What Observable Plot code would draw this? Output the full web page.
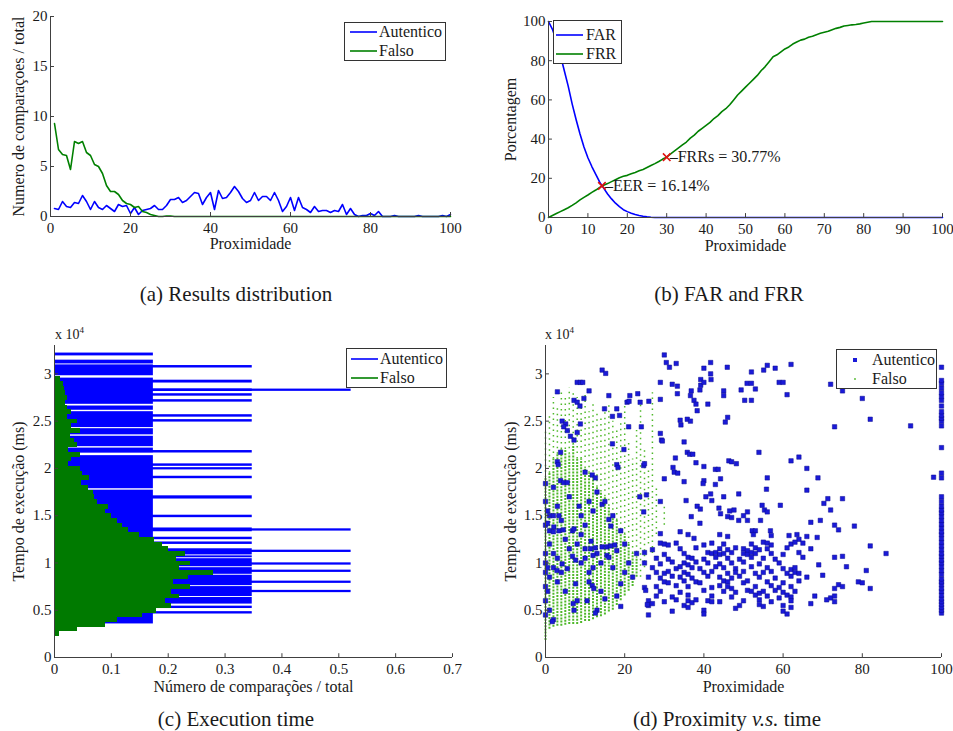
<!DOCTYPE html>
<html><head><meta charset="utf-8">
<script src="https://cdn.jsdelivr.net/npm/d3@7"></script>
<script src="https://cdn.jsdelivr.net/npm/@observablehq/plot@0.6"></script>
<style>
body{margin:0;background:#fff;}
#fig{position:relative;width:953px;height:731px;overflow:hidden;background:#fff;font-family:"Liberation Serif","DejaVu Serif",serif;color:#1a1a1a;}
#fig svg, #fig svg text{font-family:"Liberation Serif","DejaVu Serif",serif;}
.panel{position:absolute;}
.cap{position:absolute;font-size:21px;white-space:nowrap;transform:translate(-50%,-50%);line-height:1;}
.legend{position:absolute;box-sizing:border-box;border:1px solid #333;background:#fff;font-size:16px;}
.expo{position:absolute;font-size:14px;line-height:1;white-space:nowrap;}
</style>
</head><body><div id="fig"></div>
<script>
// ---------------- DATA ----------------
// (a) Results distribution
const aProx = d3.range(1, 101);
const aAutentico = [0.8,0.7,1.5,1.0,0.9,1.4,1.3,2.1,1.5,0.7,
  1.5,0.9,0.7,1.1,0.8,0.5,1.2,1.0,1.1,0.3,
  0.9,0.2,0.6,0.7,0.8,1.1,0.7,0.7,1.1,1.7,
  1.7,1.9,1.4,1.6,2.0,2.4,2.3,1.2,1.9,2.4,
  0.7,2.6,1.8,1.9,2.4,3.0,2.5,1.8,1.4,1.6,
  2.4,1.6,2.0,2.0,1.6,2.4,1.6,0.5,1.0,1.9,
  0.6,1.9,0.9,0.7,0.4,1.0,0.5,0.6,0.6,0.4,
  0.6,0.5,1.2,0.2,0.8,0.2,0,0.1,0.1,0.3,
  0.1,0.5,0,0,0,0.1,0,0,0,0,
  0,0.1,0,0,0,0,0,0.1,0,0.2];
const aFalso = [9.3,6.7,6.2,6.1,4.7,7.5,7.3,7.5,6.4,6.1,
  5.2,5.0,4.3,3.1,2.5,2.5,2.2,1.6,1.3,1.2,
  0.9,1.0,0.5,0.4,0.2,0.1,0,0,0.05,0.05,
  0,0,0,0,0,0,0,0,0,0, 0,0,0,0,0,0,0,0,0,0,
  0,0,0,0,0,0,0,0,0,0, 0,0,0,0,0,0,0,0,0,0,
  0,0,0,0,0,0,0,0,0,0, 0,0,0,0,0,0,0,0,0,0,
  0,0,0,0,0,0,0,0,0,0];
const aTicksX = [0,20,40,60,80,100];
const aTicksY = [0,5,10,15,20];

// (b) FAR and FRR
const bProx = d3.range(0, 101);
const bFAR = [100,96,90,83,75,67,58,50,42.6,36,
  30.5,26,22,18,15,12,9.5,7.3,5.5,4,
  3,2.2,1.5,1,0.6,0.3,0.1,0,0,0,
  0,0,0,0,0,0,0,0,0,0, 0,0,0,0,0,0,0,0,0,0,
  0,0,0,0,0,0,0,0,0,0, 0,0,0,0,0,0,0,0,0,0,
  0,0,0,0,0,0,0,0,0,0, 0,0,0,0,0,0,0,0,0,0,
  0,0,0,0,0,0,0,0,0,0, 0];
const bFRR = [0,1,2,3,4,5,6.2,7.5,9,10.3,
  11.5,12.8,14,15.3,16.5,17.3,18.3,19.3,20.3,21,
  21.5,22.3,23,23.8,24.5,25.5,26.5,27.5,28.6,29.8,
  30.77,32.5,34,35.5,37,38.5,40.5,42,44,45.5,
  47,48.5,50.5,52,54,55.5,57.5,60,62.5,64.5,
  66.5,68.5,70.5,72.5,75,77,79.5,82,83,84.5,
  86,87,88.5,89.5,90.5,91,92,92.5,93.3,94,
  94.5,95,95.8,96.5,97,97.7,98,98.3,98.5,98.8,
  99.2,99.6,100,100,100,100,100,100,100,100,
  100,100,100,100,100,100,100,100,100,100, 100];
const bMarkProx = [13.56, 30];
const bMarkVal = [16.14, 30.77];
const bMarkText = ["EER = 16.14%", "FRRs = 30.77%"];
const bTicksX = [0,10,20,30,40,50,60,70,80,90,100];
const bTicksY = [0,20,40,60,80,100];

// (c) Execution time (ms ranges of histogram bins, count level n -> n*0.1739)
const cStep = 0.1739;
const cAut1 = [[3550,17700],[17850,21350],[21650,22150],[22300,23400],[23550,24200],[24320,26000],[26150,26600],[26780,29550],[29800,30950],[31050,31450],[31900,32200]];
const cAut2 = [[4600,4850],[5180,5430],[5650,6350],[6450,7500],[7600,8700],[8800,9500],[9600,10450],[10550,10750],[10850,11500],[11960,12220],[12460,12720],[13300,13700],[14790,15050],[16760,17100],[18910,19170],[19840,20080],[20220,20480],[21630,21890],[24900,25160],[25420,25680],[27010,27270],[27640,27900],[28140,28400],[29030,29330],[30620,30880]];
const cAut3 = [[6860,7100],[7840,8080],[9000,9240],[9770,10010],[11110,11350],[13370,13610],[28150,28390]];
const cFalsoStart = [2200,2700,3200,3700,4200,4700,5200,5700,6200,6700,7200,7700,8200,8700,9200,9700,10200,10700,11200,11700,12200,12700,13200,13700,14200,14700,15200,15700,16200,16700,17200,17700,18200,18700,19200,19700,20200,20700,21200,21700,22200,22700,23200,23700,24200,24700,25200,25700,26200,26700,27200,27700,28200,28700,29200];
const cFalsoFrac = [0.008,0.04,0.09,0.11,0.155,0.18,0.205,0.195,0.22,0.205,0.24,0.21,0.235,0.28,0.22,0.24,0.215,0.23,0.2,0.19,0.175,0.15,0.13,0.12,0.11,0.1,0.09,0.095,0.075,0.07,0.068,0.06,0.048,0.062,0.05,0.045,0.025,0.03,0.045,0.025,0.04,0.035,0.028,0.045,0.03,0.04,0.022,0.03,0.022,0.02,0.022,0.02,0.018,0.015,0.01];
const cFalsoBin = 500;
const cTicksX = [0,0.1,0.2,0.3,0.4,0.5,0.6,0.7];
const cTicksY = [0,5000,10000,15000,20000,25000,30000];

// (d) Proximity vs time
const dAutentico = [
 [14.3,30400],[15.2,30050],[8,29100],[8.8,29100],[9.4,29100],[3,28100],[11,28200],[9.7,27400],[16,27700],[7.2,27200],[8,27000],[8.7,26600],[14.9,26300],[18,26300],[16.9,25500],[18.7,25600],[4.2,25000],[5.1,24700],[4.6,24400],[8.8,24700],[5.5,24000],[6.3,23400],[7.2,23000],[8,23800],[16.9,22600],[19.8,22000],[3.8,21700],[3,20700],[3.2,20400],[18,20400],[18.3,20100],[0,18400],[3.8,18700],[4.6,18500],[5.5,18500],[10,19600],[11.8,19300],[12.6,19000],[14.3,16200],[21,24400],[20.6,27000],[21.3,27700],[21.1,27100],[23.3,27900],[23.9,27000],[24.2,24400],[26.1,27100],[24.8,20300],[25,20500],[23.8,17000],[24.8,15400],[29,23700],[29.3,23000],[30,18900],[29,16500],[29,27300],[29.5,22900],
 [30,32000],[30.5,31200],[31.3,30700],[33,31100],[29,29100],[32,28900],[33.3,28700],[33.3,27900],
 [34,25100],[34.2,24600],[35.8,25200],[36.6,27700],[37.5,27200],[36.8,28200],[38,26800],[39,28300],[39.2,28800],[39.2,29400],[40,29100],[41.7,31200],[41.7,30000],[41.8,29400],[40,30600],[41,26800],[38.3,26100],[36.6,25000],[45.9,30700],[45,28200],[45,27700],[45.4,24900],[46,25400],[49.4,28300],[50.3,27200],[50.9,29000],[52,29000],[52,30200],[52,27200],[53,28400],[55.1,30400],[56,30900],[58,30600],[59,29100],[60,29100],[61,27800],[62,31000],[72,28900],[75,28200],[73,24400],[80,27400],[82,25200],[92.2,24500],
 [32.8,21100],[32.2,20100],[32.5,19600],[33.4,19500],[35,18600],[35,22800],[35.8,21700],[36.4,21500],[37.2,21500],[38,20600],[40,20200],[40,18700],[39.8,18400],[41.7,17300],[42.9,19900],[43.6,19900],[42.9,18300],[44.2,18900],[46.3,20800],[47,20700],[48.2,20500],[48.8,17300],[38.3,16000],[39.1,15700],[36.8,14900],[39,14200],[42,16600],[43.8,15800],[44.2,15200],[46,14900],[46.5,15500],[47.6,15600],[47,14800],[48.8,14500],[50,15000],[51,15400],[51,14500],[52.2,13400],[53,13400],[54.3,14500],[55.3,15600],[56,15400],[55.8,17800],[56,19000],[54.7,16100],[56.8,13400],[59.3,16100],[62,20800],[64,21200],[66,20000],[66,17700],[68.8,19000],[67,14300],[69.4,14500],[70.3,16300],[71.3,16800],[72,15600],[73,14000],[75,16800],[78,13900],[68.6,12700],[53.9,21700],[35.5,16600],[40.5,17000],[45,17000],[25.5,17200],
 [29,13100],[34,13300],[36,13000],[37.5,12600],[44,13000],[46,12800],[52.5,13000],[57,12900],[61.5,12900],[63.5,13000],[64,12500],[66,12800],[74,13500],
 [29,12100],[30,12000],[31,11900],[33,12100],[40,11900],[42,12100],[45,12000],[52,12000],[55,12200],[56,12100],[57,11900],[62,12000],[63,12200],[65,12100],
 [27,11400],[34,11500],[38,11600],[44,11500],[46,11400],[48,11600],[50,11500],[51,11300],[53,11600],[54,11400],[56,11500],[61,11600],[67,11500],
 [25,11100],[30,10900],[35,11000],[41,11100],[42,11000],[43,11100],[44,10900],[45,11000],[47,11100],[50,11000],[51,10900],[52,11100],[53,11000],[57,11000],[60,10900],[64,11100],[86,11000],[82,11800],
 [28,10500],[31,10400],[36,10600],[37,10500],[40,10400],[43,10600],[46,10500],[49,10400],[52,10600],[55,10500],[58,10400],[65,10600],[73,10600],[75,10700],
 [25,10000],[29,9900],[32,10100],[35,10000],[36,9800],[38,10100],[41,10000],[44,9900],[47,10000],[50,10100],[54,9900],[59,10000],[69,9800],
 [27,9500],[33,9400],[34,9600],[37,9500],[39,9400],[43,9600],[45,9500],[48,9400],[52,9600],[56,9500],[60,9400],[62,9300],[63,9500],[76,9600],
 [28,9000],[30,8900],[31,9100],[35,9000],[36,8800],[40,9000],[42,9100],[46,8900],[48,9000],[50,9100],[53,8900],[55,9000],[57,9100],[61,8900],[63,9000],[64,8900],[81,9200],
 [26,8500],[29,8400],[32,8600],[34,8500],[37,8400],[41,8600],[44,8500],[47,8400],[49,8600],[54,8500],[58,8400],[62,8600],[66,8500],[70,8700],
 [30,8000],[31,7900],[35,8100],[38,8000],[39,7900],[45,8100],[46,8000],[50,7900],[51,8100],[56,8000],[60,7900],[64,8100],[79,8000],[80,7900],
 [25,7400],[28,7500],[33,7600],[36,7500],[42,7400],[44,7600],[46,7500],[47,7300],[53,7500],[57,7600],[59,7400],[62,7500],[73,7300],[74,7700],[75,7500],[82,7300],
 [29,7000],[34,6900],[40,7100],[45,7000],[48,6900],[51,7100],[52,7000],[54,6800],[55,7000],[58,7100],[60,6900],[63,7000],
 [28,6500],[32,6400],[36,6600],[42,6500],[47,6400],[53,6600],[56,6500],[59,6300],[61,6600],[62,6400],[68,6500],[72,6300],[73,6500],
 [26,6000],[30,5900],[33,6100],[36,6000],[37,5800],[38,6100],[41,6000],[42,5900],[50,6000],[54,6100],[57,5900],[62,6000],[71,6100],[73,5900],
 [26,5500],[27,5700],[35,5500],[36,5300],[49,5500],[54,5600],[55,5400],[60,5500],[62,5300],
 [32,4900],[40,5000],[60,4900],[44,5900],[48,5200],[26,4500],[40,4600],[61,4600],[67,5700],
 [0,16500],[0.5,15500],[1,15000],[2,15000],[3.4,15000],[0,14000],[0.5,14200],[2.1,13800],[1,13400],[2,13300],[3.4,13400],[4.5,13500],[6.8,13400],[7.2,13600],[11.4,11500],[12.6,11600],[14.3,11700],[15.5,11700],[16.4,11800],[17.5,11900],[18,11300],[15.5,10800],[16,10600],[6.8,10700],[7.6,10300],[2,9500],[2.9,9200],[11,8000],[11.8,7600],[12.2,7300],[7,5700],[7.2,5000],[13,5000],[2,4000],[19,5400],[25.3,7100],[25.7,5600],[4.2,9900],[5.5,9400],[7.6,7800],[8,6000],[10.5,6000],[12.6,4700],[1.7,3800],[0,9000],[0,10000],[0,11000],[0.5,9500],[1,8500],[0,7500],[0.5,7000],[0,6000],[1,5000],[0,4500],[1,12000],[2,11000],[3,10500],[4,9000],[3,8000],[5,7000],[9,10000],[10,10500],[11,9000],[12,9500],[13,11000],[14,10000],[8,12000],[9,13000],[10,14000],[12,15500],[13,17500],[15,16500],[16,14600],[17,15000],[19,13400],[20,12000],[20,9000],[21,10000],[22,8500],[23,11000],[19,7800],[17,9500],[18,6500],[14,7000],[15,6200],[6,11500],[5,12500],[4,14500],[3,16000],[9,15000],[11,16500],[2,18000],[6,17000],[16.5,13900],[8.5,16000],[10,11500],[11.5,12300],[12,10800],
 [100,4700],[100,5000],[100,5300],[100,5600],[100,5900],[100,6200],[100,6600],[100,7000],[100,7300],[100,7700],[100,8000],[100,8300],[100,8800],[100,9200],[100,9600],[100,10000],[100,10300],[100,10700],[100,11000],[100,11400],[100,11800],[100,12200],[100,12600],[100,13000],[100,13300],[100,13700],[100,14100],[100,14500],[100,14900],[100,15300],[100,15600],[100,16000],[100,16500],[100,17000],[100,19000],[100,19500],[100,22200],[100,24500],[100,25000],[100,25300],[100,25600],[100,26000],[100,26600],[100,27200],[100,27600],[100,28000],[100,28500],[100,29000],[100,29300],[100,30700],[98,19070]
];
const dFalsoDenseX  = [0,1,2,3,4,5,6,7,8,9,10,11,12,13,14,15,16,17,18,19,20,21,22,23];
const dFalsoDenseLo = [1800,3000,3200,3300,3300,3400,3500,3500,3500,3600,3800,3800,4000,4200,4300,4500,4800,5000,5500,6000,6500,7000,7500,8500];
const dFalsoDenseHi = [19000,19500,21000,21500,22000,22000,21500,22500,21000,21000,20000,19500,19000,18000,17500,17000,16000,15000,14500,13500,13000,12000,11000,10500];
const dFalsoSparseX  = [0,1,2,3,4,5,6,7,8,9,10,11,12,13,14,15,16,17,18,19,20,21,22,23,24,25,26,27,28,30];
const dFalsoSparseLo = [19000,19500,21000,21500,22000,22000,21500,22500,21000,21000,20000,19500,19000,18000,17500,17000,16000,15000,14500,13500,13000,12000,11000,10500,8500,9500,12000,11000,13000,14000];
const dFalsoSparseHi = [24000,25500,27500,26500,28000,27500,28500,28000,27500,26500,28000,26000,27000,26000,25500,26500,27000,25000,24000,25000,27000,23000,21000,24000,27000,22000,20000,28000,18000,16000];
const dTicksX = [0,20,40,60,80,100];
const dTicksY = [0,5000,10000,15000,20000,25000,30000];

// ---------------- DRAWING ----------------
const BLUE = "#0000ff", GREEN = "#008000", AX = "#404040", LIME = "#4fb82a";
const fig = document.getElementById("fig");
const style = {fontFamily: "'Liberation Serif', 'DejaVu Serif', serif", fontSize: "15px", background: "transparent", color: "#1a1a1a", overflow: "visible"};

function axesMarks(xDom, yDom, xTicks, yTicks, tx, ty) {
  return [
    Plot.ruleX(xTicks, {x: d => d, y1: yDom[0], y2: yDom[0] + ty, stroke: AX}),
    Plot.ruleY(yTicks, {y: d => d, x1: xDom[0], x2: xDom[0] + tx, stroke: AX}),
    Plot.ruleY([yDom[0]], {stroke: AX}),
    Plot.ruleX([xDom[0]], {stroke: AX})
  ];
}
const xLabel = (t, dy) => Plot.text([t], {text: d => d, frameAnchor: "bottom", textAnchor: "middle", lineAnchor: "middle", dy, fontSize: 16});
const yLabel = (t, dx) => Plot.text([t], {text: d => d, frameAnchor: "left", textAnchor: "middle", lineAnchor: "middle", rotate: -90, dx, fontSize: 16});

function mount(svg, left, top, w, h) {
  const d = document.createElement("div");
  d.className = "panel";
  Object.assign(d.style, {left: left + "px", top: top + "px", width: w + "px", height: h + "px"});
  d.appendChild(svg);
  fig.appendChild(d);
}

// (a)
mount(Plot.plot({
  width: 470, height: 260, marginLeft: 50, marginRight: 20, marginTop: 16, marginBottom: 44, style,
  x: {domain: [0, 100], ticks: aTicksX, tickSize: 0, tickPadding: 6, label: null},
  y: {domain: [0, 20], ticks: aTicksY, tickSize: 0, tickPadding: 3, label: null},
  marks: [
    Plot.line(aAutentico, {x: aProx, y: d => d, stroke: BLUE, strokeWidth: 1.6}),
    Plot.line(aFalso, {x: aProx, y: d => d, stroke: GREEN, strokeWidth: 1.6}),
    ...axesMarks([0, 100], [0, 20], aTicksX, aTicksY, 1, 0.4),
    xLabel("Proximidade", 27),
    yLabel("Numero de comparaçoes / total", -32)
  ]
}), 0, 0, 470, 260);

// (b)
const bRows = bProx.map((p, i) => ({p, far: bFAR[i], frr: bFRR[i]}));
const bMarks = bMarkProx.map((p, i) => ({p, v: bMarkVal[i], t: bMarkText[i]}));
mount(Plot.plot({
  width: 473, height: 260, marginLeft: 68, marginRight: 11, marginTop: 21, marginBottom: 43, style,
  x: {domain: [0, 100], ticks: bTicksX, tickSize: 0, tickPadding: 6, label: null},
  y: {domain: [0, 100], ticks: bTicksY, tickSize: 0, tickPadding: 3, label: null},
  marks: [
    Plot.line(bRows, {x: "p", y: "far", stroke: BLUE, strokeWidth: 1.6}),
    Plot.line(bRows, {x: "p", y: "frr", stroke: GREEN, strokeWidth: 1.6}),
    Plot.dot(bMarks, {x: "p", y: "v", symbol: "times", r: 3.5, stroke: "#e01010", strokeWidth: 1.6}),
    Plot.text(bMarks, {x: "p", y: "v", text: d => "\u2013" + d.t, textAnchor: "start", dx: 3, fontSize: 16}),
    ...axesMarks([0, 100], [0, 100], bTicksX, bTicksY, 1, 2),
    xLabel("Proximidade", 28),
    yLabel("Porcentagem", -38)
  ]
}), 480, 0, 473, 260);

// (c)
const toRows = (arr, n) => arr.map(([a, b]) => ({y1: a, y2: b, x2: n * cStep}));
const cBlue = [...toRows(cAut3, 3), ...toRows(cAut2, 2), ...toRows(cAut1, 1)];
const cGreen = cFalsoStart.map((s, i) => ({y1: s, y2: s + cFalsoBin, x2: cFalsoFrac[i]}));
mount(Plot.plot({
  width: 470, height: 400, marginLeft: 54, marginRight: 18, marginTop: 25, marginBottom: 63, style,
  x: {domain: [0, 0.7], ticks: cTicksX, tickFormat: d => String(d), tickSize: 0, tickPadding: 6, label: null},
  y: {domain: [0, 33000], ticks: cTicksY, tickFormat: d => String(d / 10000), tickSize: 0, tickPadding: 3, label: null},
  marks: [
    Plot.rectX(cBlue, {x1: 0, x2: "x2", y1: "y1", y2: "y2", fill: BLUE}),
    Plot.rectX(cGreen, {x1: 0, x2: "x2", y1: "y1", y2: "y2", fill: "#007a00", shapeRendering: "crispEdges"}),
    ...axesMarks([0, 0.7], [0, 33000], cTicksX, cTicksY, 0.007, 400),
    xLabel("Número de comparações / total", 29),
    yLabel("Tempo de execução (ms)", -36)
  ]
}), 0, 320, 470, 400);

// (d)
const dDense = dFalsoDenseX.map((x, i) => ({x, y1: dFalsoDenseLo[i], y2: dFalsoDenseHi[i]}));
const dSparse = dFalsoSparseX.map((x, i) => ({x, y1: dFalsoSparseLo[i], y2: dFalsoSparseHi[i]}));
mount(Plot.plot({
  width: 473, height: 400, marginLeft: 65, marginRight: 12, marginTop: 25, marginBottom: 63, style,
  x: {domain: [0, 100], ticks: dTicksX, tickSize: 0, tickPadding: 6, label: null},
  y: {domain: [0, 33000], ticks: dTicksY, tickFormat: d => String(d / 10000), tickSize: 0, tickPadding: 3, label: null},
  marks: [
    Plot.ruleX(dSparse, {x: "x", y1: "y1", y2: "y2", stroke: LIME, strokeWidth: 1.5, strokeDasharray: "1.5,4"}),
    Plot.ruleX(dDense, {x: "x", y1: "y1", y2: "y2", stroke: LIME, strokeWidth: 2, strokeDasharray: "2,1.2"}),
    Plot.dot(dAutentico, {x: d => d[0], y: d => d[1], symbol: "square", r: 2.5, fill: "#1a1ad8", stroke: "#0a0a90", strokeWidth: 0.5}),
    ...axesMarks([0, 100], [0, 33000], dTicksX, dTicksY, 1, 400),
    xLabel("Proximidade", 29),
    yLabel("Tempo de execução (ms)", -35)
  ]
}), 480, 320, 473, 400);

// legends
function legend(left, top, w, h, rows) {
  const box = document.createElement("div");
  box.className = "legend";
  Object.assign(box.style, {left: left + "px", top: top + "px", width: w + "px", height: h + "px"});
  let html = "";
  for (const r of rows) {
    let sw = "";
    if (r.kind === "line") sw = `<line x1="${r.x1}" x2="${r.x2}" y1="5" y2="5" stroke="${r.color}" stroke-width="1.6"/>`;
    else if (r.kind === "square") sw = `<rect x="${r.x1 - 2}" y="3" width="4" height="4" fill="${r.color}"/>`;
    else sw = `<circle cx="${r.x1}" cy="5" r="0.9" fill="${r.color}"/>`;
    html += `<svg style="position:absolute;left:0;top:${r.cy - 5}px" width="${w - 2}" height="10">${sw}</svg>`;
    html += `<span style="position:absolute;left:${r.tx}px;top:${r.cy}px;transform:translateY(-52%);line-height:1;white-space:nowrap">${r.label}</span>`;
  }
  box.innerHTML = html;
  fig.appendChild(box);
}
legend(344, 22, 102, 39, [
  {kind: "line", x1: 5, x2: 32, cy: 9, tx: 34, color: BLUE, label: "Autentico"},
  {kind: "line", x1: 5, x2: 32, cy: 28, tx: 34, color: GREEN, label: "Falso"}
]);
legend(553, 20, 69, 44, [
  {kind: "line", x1: 2, x2: 29, cy: 14, tx: 32, color: BLUE, label: "FAR"},
  {kind: "line", x1: 2, x2: 29, cy: 33, tx: 32, color: GREEN, label: "FRR"}
]);
legend(346, 348, 101, 40, [
  {kind: "line", x1: 4, x2: 31, cy: 10, tx: 33, color: BLUE, label: "Autentico"},
  {kind: "line", x1: 4, x2: 31, cy: 29, tx: 33, color: GREEN, label: "Falso"}
]);
legend(836, 349, 101, 40, [
  {kind: "square", x1: 18, cy: 10, tx: 35, color: "#1a1ad8", label: "Autentico"},
  {kind: "dot", x1: 18, cy: 29, tx: 35, color: LIME, label: "Falso"}
]);

// exponent labels and captions
function addHTML(cls, left, top, html) {
  const d = document.createElement("div");
  d.className = cls; d.style.left = left + "px"; d.style.top = top + "px"; d.innerHTML = html;
  fig.appendChild(d);
}
addHTML("expo", 55, 326, "x 10<sup style='font-size:9px;vertical-align:6px'>4</sup>");
addHTML("expo", 545, 326, "x 10<sup style='font-size:9px;vertical-align:6px'>4</sup>");
addHTML("cap", 236, 294, "(a) Results distribution");
addHTML("cap", 729, 294, "(b) FAR and FRR");
addHTML("cap", 236, 719, "(c) Execution time");
addHTML("cap", 727, 719, "(d) Proximity <i>v.s.</i> time");
</script></body></html>
